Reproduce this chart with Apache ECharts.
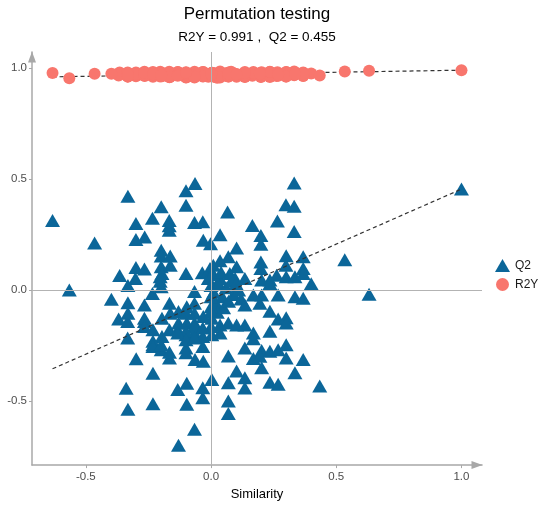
<!DOCTYPE html>
<html>
<head>
<meta charset="utf-8">
<title>Permutation testing</title>
<script src="https://cdn.jsdelivr.net/npm/echarts@6/dist/echarts.min.js"></script>
<style>
  html, body { margin: 0; padding: 0; background: #ffffff; }
  #chart { width: 554px; height: 506px; }
</style>
</head>
<body>
<div id="chart"></div>
<script>
// Similarity of each permuted response to the original one (last entry = original model)
const similarity = [
  -0.633, -0.465, -0.332, -0.300, -0.300, -0.265, -0.234, -0.199, -0.167, -0.167,
  -0.167, -0.100, -0.064, -0.100, -0.066, -0.033, -0.031, -0.002, 0.036, 0.066,
  0.165, 0.199, 0.199, 0.265, 0.102, 0.332, 0.299, 0.332, 0.332, -0.199,
  -0.199, -0.163, 0.069, 0.036, 0.300, 0.368, 0.534, -0.163, -0.199, -0.300,
  -0.266, -0.365, -0.100, -0.035, -0.004, 0.009, -0.203, -0.203, -0.302, -0.332,
  0.199, 0.199, 0.102, 0.299, 0.368, 0.262, 0.300, 0.335, 0.235, 0.400,
  0.202, 0.135, 0.096, 0.036, -0.011, -0.566, -0.234, -0.199, -0.196, -0.066,
  0.368, 0.235, 0.631, 0.000, 0.010, 0.030, 0.045, 0.060, 0.080, 0.020,
  0.050, 0.090, 0.110, 0.070, 0.005, 0.120, 0.040, 0.025, 0.075, 0.100,
  0.268, 0.335, 0.368, 0.202, 0.169, 0.135, 0.195, 0.235, 0.268, 0.300,
  0.300, 0.003, 0.069, 0.036, 0.135, 0.169, 0.235, 0.169, 0.003, 0.036,
  0.135, 0.202, 0.235, 0.268, 0.300, 0.169, 0.300, 0.368, 0.069, 0.202,
  0.102, 0.335, 0.135, 0.003, 0.069, 0.235, 0.268, 0.434, 0.135, 0.069,
  0.069, -0.066, -0.130, -0.097, -0.033, -0.033, -0.097, -0.133, -0.339, -0.332,
  -0.232, -0.232, -0.299, -0.333, -0.031, -0.064, -0.166, -0.199, -0.232, -0.166,
  -0.100, -0.033, -0.369, -0.333, -0.332, -0.398, -0.332, -0.266, -0.232, -0.196,
  -0.232, -0.166, -0.133, -0.100, -0.066, -0.033, 0.000, 0.195, -0.196, -0.163,
  -0.130, -0.097, -0.066, -0.031, -0.130, -0.097, -0.066, -0.266, 0.102, -0.266,
  -0.266, -0.166, -0.100, -0.066, -0.066, -0.033, 0.000, 0.000, 0.000, -0.100,
  -0.133, -0.100, -0.066, -0.232, -0.199, -0.100, 1.000
];

// Q2 of each model
const q2Values = [
  0.313, 0.212, 0.423, 0.300, 0.228, 0.239, 0.324, 0.376, 0.313, 0.290,
  0.270, 0.448, 0.480, 0.382, 0.304, 0.308, 0.224, 0.209, 0.249, 0.352,
  0.291, 0.246, 0.207, 0.311, 0.190, 0.482, 0.384, 0.378, 0.264, 0.179,
  0.154, 0.154, 0.150, 0.132, 0.155, 0.150, 0.137, 0.112, 0.105, 0.102,
  0.095, 0.066, 0.075, 0.078, 0.097, 0.112, 0.060, 0.040, 0.052, 0.020,
  0.127, 0.097, 0.105, 0.112, 0.097, 0.067, 0.060, 0.060, 0.045, 0.028,
  0.045, 0.052, 0.052, 0.052, 0.052, 0.000, -0.015, 0.015, 0.075, -0.007,
  0.075, 0.030, -0.019, 0.020, -0.010, 0.030, -0.030, 0.010, 0.040, -0.060,
  -0.080, -0.020, 0.000, -0.050, 0.070, -0.040, 0.080, -0.100, 0.075, 0.030,
  -0.022, -0.030, -0.037, -0.022, -0.022, -0.067, -0.060, -0.095, -0.130, -0.125,
  -0.149, -0.127, -0.149, -0.157, -0.157, -0.194, -0.186, -0.220, -0.201, -0.194,
  -0.261, -0.272, -0.276, -0.269, -0.246, -0.308, -0.306, -0.313, -0.297, -0.350,
  -0.365, -0.373, -0.395, -0.403, -0.418, -0.415, -0.425, -0.432, -0.442, -0.500,
  -0.556, -0.627, -0.700, -0.515, -0.485, -0.440, -0.420, -0.448, -0.443, -0.537,
  -0.512, -0.375, -0.310, -0.216, -0.321, -0.313, -0.306, -0.269, -0.246, -0.280,
  -0.261, -0.254, -0.130, -0.142, -0.104, -0.042, -0.057, -0.142, -0.179, -0.209,
  -0.231, -0.179, -0.179, -0.201, -0.194, -0.209, -0.164, -0.298, -0.127, -0.104,
  -0.097, -0.075, -0.104, -0.119, -0.149, -0.149, -0.149, -0.067, -0.157, -0.127,
  -0.164, -0.060, -0.104, -0.060, -0.164, -0.171, -0.075, -0.097, -0.030, -0.186,
  -0.194, -0.224, -0.216, -0.254, -0.246, -0.283, 0.455
];

// R2Y of each model
const r2yValues = [
  0.978, 0.975, 0.968, 0.972, 0.981, 0.965, 0.970, 0.976, 0.962, 0.984,
  0.973, 0.967, 0.979, 0.958, 0.971, 0.983, 0.964, 0.975, 0.969, 0.980,
  0.966, 0.974, 0.960, 0.982, 0.970, 0.977, 0.963, 0.985, 0.968, 0.972,
  0.979, 0.961, 0.975, 0.969, 0.983, 0.966, 0.985, 0.973, 0.978, 0.964,
  0.970, 0.981, 0.959, 0.975, 0.968, 0.977, 0.963, 0.984, 0.971, 0.966,
  0.980, 0.962, 0.974, 0.969, 0.978, 0.965, 0.982, 0.972, 0.960, 0.976,
  0.970, 0.983, 0.967, 0.974, 0.961, 0.955, 0.979, 0.968, 0.973, 0.964,
  0.981, 0.969, 0.988, 0.975, 0.962, 0.978, 0.971, 0.966, 0.984, 0.959,
  0.973, 0.977, 0.968, 0.963, 0.980, 0.970, 0.975, 0.957, 0.982, 0.967,
  0.974, 0.979, 0.965, 0.971, 0.983, 0.960, 0.976, 0.969, 0.972, 0.981,
  0.964, 0.978, 0.970, 0.985, 0.962, 0.975, 0.967, 0.980, 0.973, 0.958,
  0.977, 0.969, 0.983, 0.966, 0.971, 0.979, 0.963, 0.976, 0.968, 0.982,
  0.961, 0.974, 0.970, 0.978, 0.965, 0.984, 0.972, 0.967, 0.979, 0.963,
  0.975, 0.969, 0.981, 0.960, 0.973, 0.977, 0.966, 0.983, 0.971, 0.964,
  0.979, 0.968, 0.974, 0.962, 0.980, 0.970, 0.976, 0.965, 0.983, 0.959,
  0.972, 0.978, 0.967, 0.981, 0.963, 0.975, 0.969, 0.984, 0.961, 0.977,
  0.970, 0.966, 0.982, 0.973, 0.958, 0.979, 0.968, 0.975, 0.964, 0.980,
  0.971, 0.976, 0.962, 0.983, 0.969, 0.974, 0.965, 0.981, 0.972, 0.967,
  0.978, 0.960, 0.975, 0.970, 0.984, 0.963, 0.977, 0.968, 0.973, 0.980,
  0.966, 0.979, 0.961, 0.974, 0.969, 0.982, 0.991
];

// Dashed regression lines through the original model
const fitX = [-0.633, 1.0];
const q2FitY = [-0.355, 0.455];
const r2yFitY = [0.961, 0.991];

// Axis tick positions
const xTicks = [-0.5, 0.0, 0.5, 1.0];
const yTicks = [-0.5, 0.0, 0.5, 1.0];

const r2yOriginal = r2yValues[r2yValues.length - 1];
const q2Original = q2Values[q2Values.length - 1];

const FONT = '"Liberation Sans", Arial, sans-serif';
const AXIS_GREY = '#A8A8A8';
const BLUE = '#0B6699';
const SALMON = '#F8766D';

const q2Points = similarity.map((x, i) => [x, q2Values[i]]);
const r2yPoints = similarity.map((x, i) => [x, r2yValues[i]]);
const q2Fit = fitX.map((x, i) => [x, q2FitY[i]]);
const r2yFit = fitX.map((x, i) => [x, r2yFitY[i]]);

const chart = echarts.init(document.getElementById('chart'), null, { renderer: 'canvas' });

const axisCommon = {
  splitLine: { show: false },
  axisLine: {
    show: true,
    onZero: false,
    symbol: ['none', 'triangle'],
    symbolSize: [8, 11],
    symbolOffset: [0, -5],
    lineStyle: { color: AXIS_GREY, width: 1.5 }
  },
  axisTick: { show: true, length: 3, lineStyle: { color: AXIS_GREY, width: 1 } },
  axisLabel: {
    color: '#4D4D4D',
    fontSize: 11.5,
    fontFamily: FONT,
    formatter: v => v.toFixed(1)
  }
};

chart.setOption({
  animation: false,
  backgroundColor: '#ffffff',
  title: [
    {
      text: 'Permutation testing',
      left: 257,
      top: 6,
      padding: 0,
      textAlign: 'center',
      textStyle: { fontFamily: FONT, fontSize: 17, fontWeight: 'normal', color: '#000000' }
    },
    {
      text: 'R2Y = ' + r2yOriginal.toFixed(3) + ' ,  Q2 = ' + q2Original.toFixed(3),
      left: 257,
      top: 30,
      padding: 0,
      textAlign: 'center',
      textStyle: { fontFamily: FONT, fontSize: 13.5, fontWeight: 'normal', color: '#000000' }
    }
  ],
  legend: {
    orient: 'vertical',
    left: 490,
    top: 254,
    itemWidth: 15,
    itemHeight: 13,
    itemGap: 6,
    data: [
      { name: 'Q2', icon: 'triangle' },
      { name: 'R2Y', icon: 'circle' }
    ],
    textStyle: { fontFamily: FONT, fontSize: 12, color: '#1A1A1A' },
    selectedMode: false
  },
  grid: { left: 32, right: 72, top: 52, bottom: 38, containLabel: false },
  xAxis: Object.assign({}, axisCommon, {
    type: 'value',
    min: -0.715,
    max: 1.082,
    name: 'Similarity',
    nameLocation: 'middle',
    nameGap: 19,
    nameTextStyle: { fontFamily: FONT, fontSize: 13, color: '#000000' },
    axisTick: Object.assign({}, axisCommon.axisTick, { customValues: xTicks }),
    axisLabel: Object.assign({}, axisCommon.axisLabel, { customValues: xTicks, margin: 6 })
  }),
  yAxis: Object.assign({}, axisCommon, {
    type: 'value',
    min: -0.789,
    max: 1.073,
    axisTick: Object.assign({}, axisCommon.axisTick, { customValues: yTicks }),
    axisLabel: Object.assign({}, axisCommon.axisLabel, { customValues: yTicks, margin: 5 })
  }),
  series: [
    {
      // reference lines through the origin
      name: 'origin',
      type: 'scatter',
      data: [],
      z: 1,
      silent: true,
      markLine: {
        silent: true,
        symbol: 'none',
        animation: false,
        label: { show: false },
        lineStyle: { color: '#B3B3B3', width: 1, type: 'solid' },
        data: [{ xAxis: 0 }, { yAxis: 0 }]
      }
    },
    {
      name: 'R2Y fit',
      type: 'line',
      data: r2yFit,
      symbol: 'none',
      silent: true,
      z: 2,
      lineStyle: { color: '#333333', width: 1.2, type: [4, 3] }
    },
    {
      name: 'Q2',
      type: 'scatter',
      data: q2Points,
      symbol: 'triangle',
      symbolSize: [15, 13],
      itemStyle: { color: BLUE, opacity: 1 },
      z: 3
    },
    {
      name: 'R2Y',
      type: 'scatter',
      data: r2yPoints,
      symbol: 'circle',
      symbolSize: 12,
      itemStyle: { color: SALMON, opacity: 1 },
      z: 3
    },
    {
      name: 'Q2 fit',
      type: 'line',
      data: q2Fit,
      symbol: 'none',
      silent: true,
      z: 4,
      lineStyle: { color: '#333333', width: 1.2, type: [4, 3] }
    }
  ]
});
</script>
</body>
</html>
